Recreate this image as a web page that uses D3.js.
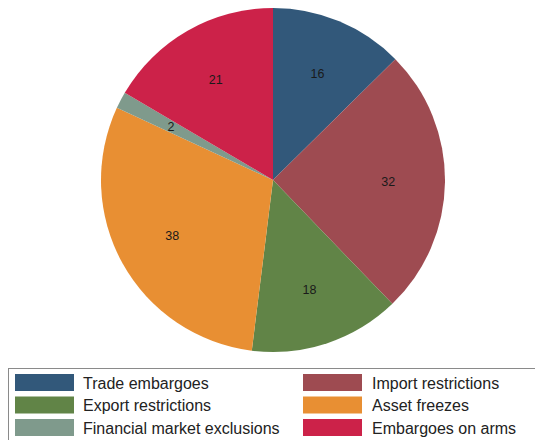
<!DOCTYPE html>
<html>
<head>
<meta charset="utf-8">
<script src="https://cdn.jsdelivr.net/npm/d3@7"></script>
<style>
  body { margin: 0; background: #fff; }
  svg { display: block; font-family: "Liberation Sans", Arial, sans-serif; }
</style>
</head>
<body>
<div id="chart"></div>
<script>
// data, clockwise from 12 o'clock
var categories = ["Trade embargoes", "Import restrictions", "Export restrictions",
    "Asset freezes", "Financial market exclusions", "Embargoes on arms"];
var values = [16, 32, 18, 38, 2, 21];
var colors = ["#32587a", "#9e4b51", "#618447", "#e88f33", "#7f9a8c", "#cc2249"];

// legend order (two columns, row by row)
var legendOrder = [0, 1, 2, 3, 4, 5];

var width = 535, height = 440;
var cx = 273, cy = 180, radius = 172;

var svg = d3.select("#chart").append("svg")
    .attr("width", width)
    .attr("height", height);

var color = d3.scaleOrdinal().domain(categories).range(colors);

var pie = d3.pie().sort(null).value(function (d) { return d.value; });
var slices = pie(categories.map(function (c, i) { return { name: c, value: values[i] }; }));

var arc = d3.arc().innerRadius(0).outerRadius(radius);
var labelArc = d3.arc().innerRadius(radius * 0.67).outerRadius(radius * 0.67);

var g = svg.append("g").attr("transform", "translate(" + cx + "," + cy + ")");

g.selectAll("path")
    .data(slices)
    .enter()
    .append("path")
    .attr("d", arc)
    .attr("fill", function (d) { return color(d.data.name); });

g.selectAll("text")
    .data(slices)
    .enter()
    .append("text")
    .attr("transform", function (d) { return "translate(" + labelArc.centroid(d) + ")"; })
    .attr("text-anchor", "middle")
    .attr("dy", "0.35em")
    .style("font-size", "12.5px")
    .style("fill", "#1a1a1a")
    .text(function (d) { return d.data.value; });

// legend
var legend = svg.append("g");
legend.append("rect")
    .attr("x", 8.5)
    .attr("y", 368.5)
    .attr("width", 540)
    .attr("height", 80)
    .attr("fill", "none")
    .attr("stroke", "#8a8a8a")
    .attr("stroke-width", 1);

var colX = [15, 303], textX = [83, 372];
var item = legend.selectAll("g.item")
    .data(legendOrder)
    .enter()
    .append("g")
    .attr("class", "item")
    .attr("transform", function (d, i) {
        return "translate(" + colX[i % 2] + "," + (374 + Math.floor(i / 2) * 22.5) + ")";
    });

item.append("rect")
    .attr("width", 59)
    .attr("height", 17)
    .attr("fill", function (d) { return colors[d]; });

item.append("text")
    .attr("x", function (d, i) { return textX[i % 2] - colX[i % 2]; })
    .attr("y", 9)
    .attr("dy", "0.35em")
    .style("font-size", "16px")
    .style("fill", "#222")
    .text(function (d) { return categories[d]; });
</script>
</body>
</html>
